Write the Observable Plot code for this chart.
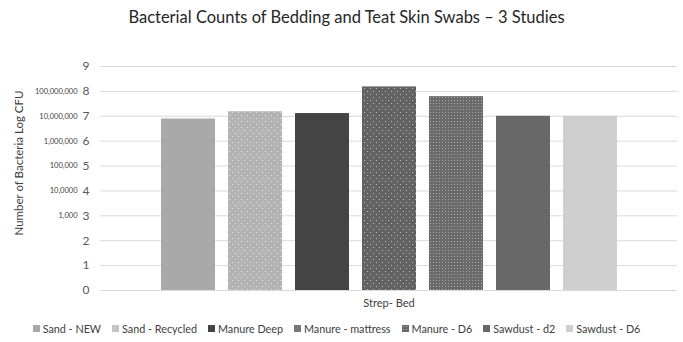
<!DOCTYPE html>
<html>
<head>
<meta charset="utf-8">
<script src="https://cdn.jsdelivr.net/npm/d3@7"></script>
<script src="https://cdn.jsdelivr.net/npm/@observablehq/plot@0.6"></script>
<style>
  body { margin: 0; background: #fff; font-family: Lato, "Open Sans", sans-serif; }
  #wrap { width: 683px; height: 342px; position: relative; }
  #title { height: 30px; line-height: 34px; text-align: center; font-size: 16.5px; color: #262626; padding-left: 10px; }
  #ytitle { position: absolute; left: 18px; top: 163px; transform: translate(-50%, -50%) rotate(-90deg); white-space: nowrap; font-size: 11.5px; color: #404040; }
  #legend { display: flex; justify-content: center; gap: 11px; font-size: 10.8px; color: #404040; height: 27px; align-items: center; padding-right: 10px; }
  #legend .item { display: flex; align-items: center; }
  #legend .sw { width: 7px; height: 7px; margin-right: 3px; }
</style>
</head>
<body>
<svg width="0" height="0" style="position:absolute">
  <defs>
    <pattern id="dotsLight" width="6" height="6" patternUnits="userSpaceOnUse">
      <rect width="6" height="6" fill="#b3b3b3"/>
      <rect x="1" y="1" width="1" height="1" fill="#e6e6e6"/>
      <rect x="4" y="4" width="1" height="1" fill="#e6e6e6"/>
    </pattern>
    <pattern id="dotsDark" width="6" height="6" patternUnits="userSpaceOnUse">
      <rect width="6" height="6" fill="#636363"/>
      <rect x="1" y="1" width="1" height="1" fill="#b8b8b8"/>
      <rect x="4" y="4" width="1" height="1" fill="#b8b8b8"/>
    </pattern>
    <pattern id="dense" width="3" height="3" patternUnits="userSpaceOnUse">
      <rect width="3" height="3" fill="#6a6a6a"/>
      <rect x="1" y="1" width="1" height="1" fill="#a8a8a8"/>
    </pattern>
  </defs>
</svg>
<div id="wrap">
  <div id="title"></div>
  <div id="ytitle"></div>
  <div id="chart"></div>
  <div id="legend"></div>
</div>
<script>
const title = "Bacterial Counts of Bedding and Teat Skin Swabs – 3 Studies";
const series = ["Sand - NEW", "Sand - Recycled", "Manure Deep", "Manure - mattress", "Manure - D6", "Sawdust - d2", "Sawdust - D6"];
const values = [6.89, 7.18, 7.11, 8.18, 7.79, 7.0, 7.0];
const category = "Strep- Bed";
const yTicks = [0, 1, 2, 3, 4, 5, 6, 7, 8, 9];
const countLabels = ["", "", "", "1,000", "10,0000", "100,000", "1,000,000", "10,000,000", "100,000,000", ""];
const yTitle = "Number of Bacteria Log CFU";
const fills = ["#a9a9a9", "url(#dotsLight)", "#444444", "url(#dotsDark)", "url(#dense)", "#686868", "#cfcfcf"];
const swatches = ["#a9a9a9", "#c4c4c4", "#444444", "#777777", "url(#dense)", "#686868", "#cfcfcf"];

document.getElementById("title").textContent = title;
document.getElementById("ytitle").textContent = yTitle;

const data = series.map((s, i) => ({series: s, value: values[i], cat: category}));

const chart = Plot.plot({
  width: 683,
  height: 285,
  marginTop: 36,
  marginBottom: 25,
  marginLeft: 100,
  marginRight: 6,
  style: {fontFamily: "Lato, 'Open Sans', sans-serif", background: "#fff"},
  x: {domain: series, paddingInner: 0.2, paddingOuter: 0.87, axis: null},
  y: {domain: [0, 9], axis: null},
  color: {domain: series, range: fills},
  marks: [
    Plot.ruleY(yTicks, {y: d => d, stroke: "#d9d9d9", strokeWidth: 1}),
    Plot.barY(data, {x: "series", y: "value", fill: "series"}),
    Plot.text(yTicks, {y: d => d, text: d => String(d), frameAnchor: "left", textAnchor: "end", dx: -11, fontSize: 12, fill: "#595959"}),
    Plot.text(yTicks, {y: d => d, text: d => countLabels[d], frameAnchor: "left", textAnchor: "end", dx: -23, fontSize: 7.5, fill: "#404040"}),
    Plot.text([category], {text: d => d, frameAnchor: "bottom", dy: 16, fontSize: 11, fill: "#404040"})
  ]
});
document.getElementById("chart").appendChild(chart);

const legend = d3.select("#legend");
series.forEach((s, i) => {
  const item = legend.append("div").attr("class", "item");
  if (swatches[i].startsWith("url")) {
    item.append("svg").attr("width", 7).attr("height", 7).style("margin-right", "3px")
      .append("rect").attr("width", 7).attr("height", 7).attr("fill", swatches[i]);
  } else {
    item.append("div").attr("class", "sw").style("background", swatches[i]);
  }
  item.append("span").text(s);
});
</script>
</body>
</html>
